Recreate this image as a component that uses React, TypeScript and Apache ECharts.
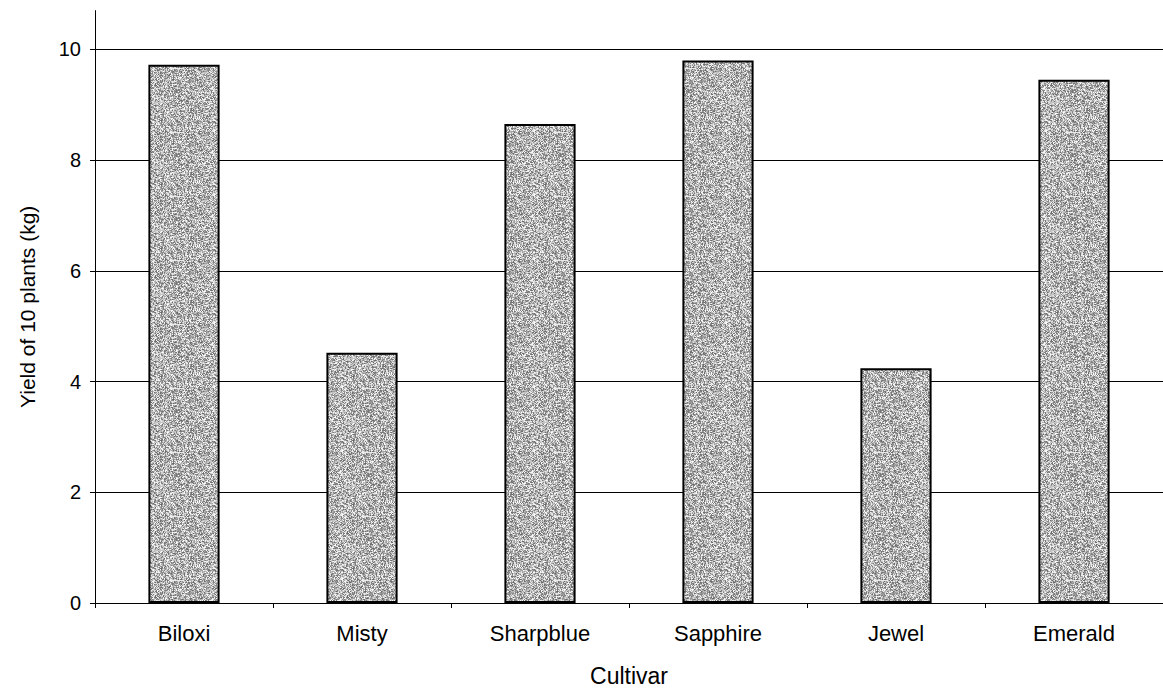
import React, { useEffect, useRef } from "react";
import * as echarts from "echarts";

const categories = ["Biloxi", "Misty", "Sharpblue", "Sapphire", "Jewel", "Emerald"];
const yieldValues = [9.72, 4.52, 8.65, 9.8, 4.24, 9.45];
const yTicks = [0, 2, 4, 6, 8, 10];

function makeTexture(): HTMLCanvasElement {
  const c = document.createElement("canvas");
  c.width = 64;
  c.height = 64;
  const ctx = c.getContext("2d")!;
  const img = ctx.createImageData(64, 64);
  let s = 12345;
  for (let i = 0; i < 64 * 64; i++) {
    s = (s * 1103515245 + 12345) & 0x7fffffff;
    const r = (s >> 8) & 255;
    const v = 105 + Math.floor((r / 255) * 150);
    img.data[i * 4] = v;
    img.data[i * 4 + 1] = v;
    img.data[i * 4 + 2] = v;
    img.data[i * 4 + 3] = 255;
  }
  ctx.putImageData(img, 0, 0);
  return c;
}

export default function App() {
  const ref = useRef<HTMLDivElement>(null);
  useEffect(() => {
    if (!ref.current) return;
    const chart = echarts.init(ref.current, null, { renderer: "svg" });
    const font = "'Liberation Sans', Arial, sans-serif";
    chart.setOption({
      animation: false,
      backgroundColor: "#ffffff",
      grid: { left: 95, right: -12, top: 10.6, bottom: 87.2, containLabel: false },
      xAxis: {
        type: "category",
        data: categories,
        name: "Cultivar",
        nameLocation: "middle",
        nameGap: 61,
        nameTextStyle: { color: "#000", fontFamily: font, fontSize: 23 },
        axisLine: { lineStyle: { color: "#000", width: 1 } },
        axisTick: { show: true, length: 5, lineStyle: { color: "#000" } },
        axisLabel: { color: "#000", fontFamily: font, fontSize: 22, margin: 19 },
      },
      yAxis: {
        type: "value",
        min: 0,
        max: 10.7,
        interval: 2,
        name: "Yield of 10 plants (kg)",
        nameLocation: "middle",
        nameGap: 57,
        nameRotate: 90,
        nameTextStyle: { color: "#000", fontFamily: font, fontSize: 21 },
        axisLine: { show: true, lineStyle: { color: "#000", width: 1 } },
        axisTick: { show: true, length: 5, lineStyle: { color: "#000" }, customValues: yTicks },
        axisLabel: { color: "#000", fontFamily: font, fontSize: 20, margin: 14, customValues: yTicks },
        splitLine: { show: true, lineStyle: { color: "#000", width: 1 } },
      },
      series: [
        {
          type: "bar",
          data: yieldValues,
          barWidth: "40%",
          itemStyle: {
            color: { image: makeTexture(), repeat: "repeat" },
            borderColor: "#000",
            borderWidth: 2,
          },
        },
      ],
    });
    return () => chart.dispose();
  }, []);
  return (
    <div
      ref={ref}
      style={{ position: "fixed", left: 0, top: 0, width: 1163, height: 692, background: "#fff" }}
    />
  );
}
